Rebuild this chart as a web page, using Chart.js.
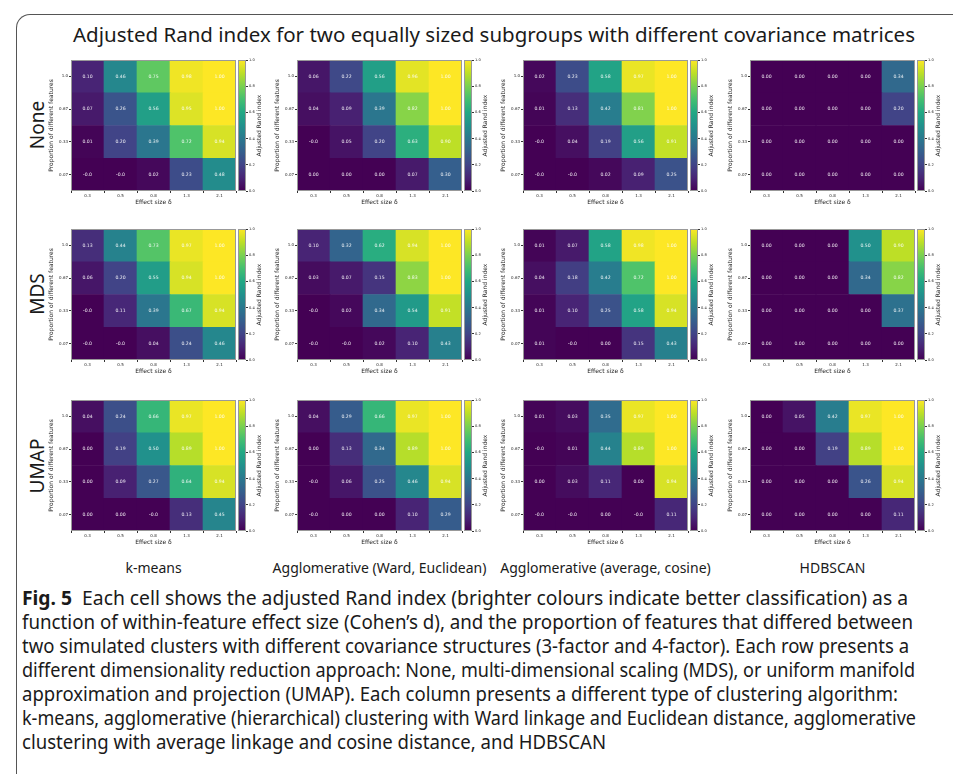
<!DOCTYPE html>
<html>
<head>
<meta charset="utf-8">
<script src="https://cdn.jsdelivr.net/npm/chart.js@4.4.1/dist/chart.umd.min.js"></script>
<style>
  body { margin: 0; background: #fff; width: 953px; height: 774px; overflow: hidden; position: relative; font-family: "Noto Sans", sans-serif; color: #1a1a1a; }
  .frame { position: absolute; left: 16px; top: 14px; width: 980px; height: 800px; border-left: 1px solid #555; border-top: 1px solid #555; border-top-left-radius: 14px; }
  canvas { position: absolute; }
  .txt { position: absolute; white-space: nowrap; }
  .center { transform: translate(-50%, -50%); }
  .rot { transform: translate(-50%, -50%) rotate(-90deg); }
  #caption { position: absolute; left: 22px; top: 586px; font-size: 19px; line-height: 24px; white-space: nowrap; }
  #caption span { display: inline-block; transform-origin: 0 50%; }
</style>
</head>
<body>
<div class="frame"></div>
<div class="txt center" style="left:494px; top:34px; font-size:20.5px;">Adjusted Rand index for two equally sized subgroups with different covariance matrices</div>
<div id="labels"></div>
<div id="caption"><span data-w="886"><b>Fig. 5</b>&nbsp; Each cell shows the adjusted Rand index (brighter colours indicate better classification) as a</span><br><span data-w="891">function of within-feature effect size (Cohen’s d), and the proportion of features that differed between</span><br><span data-w="887">two simulated clusters with different covariance structures (3-factor and 4-factor). Each row presents a</span><br><span data-w="893">different dimensionality reduction approach: None, multi-dimensional scaling (MDS), or uniform manifold</span><br><span data-w="876">approximation and projection (UMAP). Each column presents a different type of clustering algorithm:</span><br><span data-w="894">k-means, agglomerative (hierarchical) clustering with Ward linkage and Euclidean distance, agglomerative</span><br><span data-w="584">clustering with average linkage and cosine distance, and HDBSCAN</span></div>

<script>
// axis categories
const effectSizes = ['0.3', '0.5', '0.8', '1.3', '2.1'];
const proportions = ['1.0', '0.67', '0.33', '0.07'];   // top row to bottom row
const reductions = ['None', 'MDS', 'UMAP'];
const algorithms = ['k-means', 'Agglomerative (Ward, Euclidean)', 'Agglomerative (average, cosine)', 'HDBSCAN'];
const colorbarTicks = [0, 0.2, 0.4, 0.6, 0.8, 1.0];

// adjusted Rand index, rows = proportions (top to bottom), cols = effect sizes
// -0 marks cells printed as "-0.0" in the original
const noneKmeans = [
  [0.10, 0.46, 0.75, 0.98, 1.00],
  [0.07, 0.26, 0.56, 0.95, 1.00],
  [0.01, 0.20, 0.39, 0.72, 0.94],
  [-0, -0, 0.02, 0.23, 0.48]
];
const noneWard = [
  [0.06, 0.22, 0.56, 0.96, 1.00],
  [0.04, 0.09, 0.39, 0.82, 1.00],
  [-0, 0.05, 0.20, 0.63, 0.90],
  [0.00, 0.00, 0.00, 0.07, 0.30]
];
const noneAverage = [
  [0.02, 0.23, 0.58, 0.97, 1.00],
  [0.01, 0.13, 0.42, 0.81, 1.00],
  [-0, 0.04, 0.19, 0.56, 0.91],
  [-0, -0, 0.02, 0.09, 0.25]
];
const noneHdbscan = [
  [0.00, 0.00, 0.00, 0.00, 0.34],
  [0.00, 0.00, 0.00, 0.00, 0.20],
  [0.00, 0.00, 0.00, 0.00, 0.00],
  [0.00, 0.00, 0.00, 0.00, 0.00]
];
const mdsKmeans = [
  [0.13, 0.44, 0.73, 0.97, 1.00],
  [0.06, 0.20, 0.55, 0.94, 1.00],
  [-0, 0.11, 0.39, 0.67, 0.94],
  [-0, -0, 0.04, 0.24, 0.46]
];
const mdsWard = [
  [0.10, 0.32, 0.62, 0.94, 1.00],
  [0.03, 0.07, 0.15, 0.83, 1.00],
  [-0, 0.02, 0.34, 0.54, 0.91],
  [-0, -0, 0.02, 0.10, 0.43]
];
const mdsAverage = [
  [0.01, 0.07, 0.58, 0.98, 1.00],
  [0.04, 0.18, 0.42, 0.72, 1.00],
  [0.01, 0.10, 0.25, 0.58, 0.94],
  [0.01, -0, 0.00, 0.15, 0.43]
];
const mdsHdbscan = [
  [0.00, 0.00, 0.00, 0.50, 0.90],
  [0.00, 0.00, 0.00, 0.34, 0.82],
  [0.00, 0.00, 0.00, 0.00, 0.37],
  [0.00, 0.00, 0.00, 0.00, 0.00]
];
const umapKmeans = [
  [0.04, 0.24, 0.66, 0.97, 1.00],
  [0.00, 0.19, 0.50, 0.89, 1.00],
  [0.00, 0.09, 0.27, 0.64, 0.94],
  [0.00, 0.00, -0, 0.13, 0.45]
];
const umapWard = [
  [0.04, 0.29, 0.66, 0.97, 1.00],
  [0.00, 0.13, 0.34, 0.89, 1.00],
  [-0, 0.06, 0.25, 0.46, 0.94],
  [-0, 0.00, 0.00, 0.10, 0.29]
];
const umapAverage = [
  [0.01, 0.03, 0.35, 0.97, 1.00],
  [-0, 0.01, 0.44, 0.89, 1.00],
  [0.00, 0.03, 0.11, 0.00, 0.94],
  [-0, -0, 0.00, -0, 0.11]
];
const umapHdbscan = [
  [0.00, 0.05, 0.42, 0.97, 1.00],
  [0.00, 0.00, 0.19, 0.89, 1.00],
  [0.00, 0.00, 0.00, 0.26, 0.94],
  [0.00, 0.00, 0.00, 0.00, 0.11]
];

const grid = [
  [noneKmeans, noneWard, noneAverage, noneHdbscan],
  [mdsKmeans, mdsWard, mdsAverage, mdsHdbscan],
  [umapKmeans, umapWard, umapAverage, umapHdbscan]
];

// viridis colour map
const viridis = ['#440154', '#482475', '#414487', '#355f8d', '#2a788e', '#21918c',
                 '#22a884', '#44bf70', '#7ad151', '#bddf26', '#fde725'];
function hexRgb(h) { return [1, 3, 5].map(i => parseInt(h.substr(i, 2), 16)); }
function viridisColor(v) {
  v = Math.max(0, Math.min(1, v)) * (viridis.length - 1);
  const i = Math.min(Math.floor(v), viridis.length - 2);
  const t = v - i;
  const a = hexRgb(viridis[i]), b = hexRgb(viridis[i + 1]);
  const c = a.map((x, k) => Math.round(x + (b[k] - x) * t));
  return `rgb(${c[0]},${c[1]},${c[2]})`;
}
function fmt(v) { return Object.is(v, -0) ? '-0.0' : v.toFixed(2); }

Chart.defaults.font.family = '"DejaVu Sans", sans-serif';
Chart.defaults.color = '#222';
Chart.defaults.animation = false;

// plot-area geometry of the 12 panels
const colX = [71, 297, 523, 750];
const rowY = [60, 229, 400];
const plotW = 165, plotH = 131;
const yAxisW = 23, xAxisH = 15, padTop = 4, padRight = 6;

const framePlugin = {
  id: 'frame',
  afterDraw(chart) {
    const a = chart.chartArea, ctx = chart.ctx;
    ctx.save();
    ctx.strokeStyle = '#999';
    ctx.lineWidth = 1;
    ctx.strokeRect(Math.round(a.left) + 0.5, Math.round(a.top) + 0.5, Math.round(a.right - a.left) - 1, Math.round(a.bottom - a.top) - 1);
    ctx.restore();
  }
};

const cellLabels = {
  id: 'cellLabels',
  afterDatasetsDraw(chart) {
    const ctx = chart.ctx;
    ctx.save();
    ctx.font = '4.6px "DejaVu Sans"';
    ctx.fillStyle = 'rgba(255,255,255,0.9)';
    ctx.textAlign = 'center';
    ctx.textBaseline = 'middle';
    chart.data.datasets.forEach((ds, i) => {
      chart.getDatasetMeta(i).data.forEach((bar, j) => {
        ctx.fillText(fmt(ds.cellValues[j]), bar.x, (bar.y + bar.base) / 2);
      });
    });
    ctx.restore();
  }
};

const cbTitle = {
  id: 'cbTitle',
  afterDraw(chart) {
    const a = chart.chartArea, ctx = chart.ctx;
    ctx.save();
    ctx.font = '6px "DejaVu Sans"';
    ctx.fillStyle = '#222';
    ctx.textAlign = 'center';
    ctx.textBaseline = 'middle';
    ctx.translate(a.right + 13, (a.top + a.bottom) / 2);
    ctx.rotate(-Math.PI / 2);
    ctx.fillText('Adjusted Rand index', 0, 0);
    ctx.restore();
  }
};

function addCanvas(left, top, w, h) {
  const c = document.createElement('canvas');
  c.width = w; c.height = h;
  c.style.left = left + 'px'; c.style.top = top + 'px';
  c.style.width = w + 'px'; c.style.height = h + 'px';
  document.body.appendChild(c);
  return c;
}

function drawHeatmap(values, px, py) {
  const canvas = addCanvas(px - yAxisW, py - padTop, yAxisW + plotW + padRight, padTop + plotH + xAxisH);
  // one stacked dataset per proportion row, bottom row first
  const datasets = proportions.map((p, k) => {
    const row = values[proportions.length - 1 - k];
    return {
      label: proportions[proportions.length - 1 - k],
      data: effectSizes.map(() => 1),
      cellValues: row,
      backgroundColor: row.map(viridisColor),
      barPercentage: 1,
      categoryPercentage: 1,
      borderWidth: 0
    };
  });
  new Chart(canvas, {
    type: 'bar',
    data: { labels: effectSizes, datasets },
    options: {
      responsive: false,
      layout: { padding: { top: padTop, right: padRight, left: 0, bottom: 0 } },
      plugins: { legend: { display: false }, tooltip: { enabled: false } },
      scales: {
        x: {
          stacked: true,
          grid: { drawOnChartArea: false, tickLength: 2, color: '#333' },
          border: { display: false },
          ticks: { font: { size: 4 }, padding: 1, maxRotation: 0 },
          title: { display: true, text: 'Effect size δ', font: { size: 6 }, padding: { top: 0, bottom: 0 } },
          afterFit: s => { s.height = xAxisH; }
        },
        y: {
          stacked: true,
          min: 0, max: proportions.length,
          afterBuildTicks: s => { s.ticks = proportions.map((p, i) => ({ value: i + 0.5 })); },
          grid: { drawOnChartArea: false, tickLength: 2, color: '#333' },
          border: { display: false },
          ticks: { font: { size: 4 }, padding: 1, callback: (v, i) => proportions[proportions.length - 1 - i] },
          title: { display: true, text: 'Proportion of different features', font: { size: 6 }, padding: { top: 0, bottom: 1 } },
          afterFit: s => { s.width = yAxisW; }
        }
      }
    },
    plugins: [cellLabels, framePlugin]
  });
}

function drawColorbar(px, py) {
  const cbW = 8, axisW = 24;
  const canvas = addCanvas(px, py - padTop, cbW + axisW, padTop + plotH + 4);
  new Chart(canvas, {
    type: 'bar',
    data: {
      labels: [''],
      datasets: [{
        data: [1],
        barPercentage: 1,
        categoryPercentage: 1,
        backgroundColor: ctx => {
          const a = ctx.chart.chartArea;
          if (!a) return viridis[0];
          const g = ctx.chart.ctx.createLinearGradient(0, a.bottom, 0, a.top);
          viridis.forEach((c, i) => g.addColorStop(i / (viridis.length - 1), c));
          return g;
        }
      }]
    },
    options: {
      responsive: false,
      layout: { padding: { top: padTop, bottom: 4, left: 0, right: 0 } },
      plugins: { legend: { display: false }, tooltip: { enabled: false } },
      scales: {
        x: { display: false },
        y: {
          position: 'right',
          min: 0, max: 1,
          afterBuildTicks: s => { s.ticks = colorbarTicks.map(v => ({ value: v })); },
          grid: { drawOnChartArea: false, tickLength: 2, color: '#333' },
          border: { display: false },
          ticks: { font: { size: 3.6 }, padding: 1, callback: v => v.toFixed(1) },
          afterFit: s => { s.width = axisW; }
        }
      }
    },
    plugins: [framePlugin, cbTitle]
  });
}

grid.forEach((row, r) => {
  row.forEach((values, c) => {
    drawHeatmap(values, colX[c], rowY[r]);
    drawColorbar(colX[c] + plotW + 2, rowY[r]);
  });
});

// row and column labels
const labels = document.getElementById('labels');
const rowLabelY = [125, 294, 466];
reductions.forEach((t, r) => {
  const d = document.createElement('div');
  d.className = 'txt rot';
  d.style.cssText = `left:37px; top:${rowLabelY[r]}px; font-size:19px;`;
  d.textContent = t;
  labels.appendChild(d);
});
algorithms.forEach((t, c) => {
  const d = document.createElement('div');
  d.className = 'txt center';
  d.style.cssText = `left:${colX[c] + plotW / 2}px; top:567px; font-size:14px;`;
  d.textContent = t;
  labels.appendChild(d);
});

// fit each caption line to the width it has in the original figure
document.querySelectorAll('#caption span').forEach(s => {
  const w = s.getBoundingClientRect().width;
  s.style.transform = `scaleX(${(+s.dataset.w / w).toFixed(4)})`;
});
</script>
</body>
</html>
